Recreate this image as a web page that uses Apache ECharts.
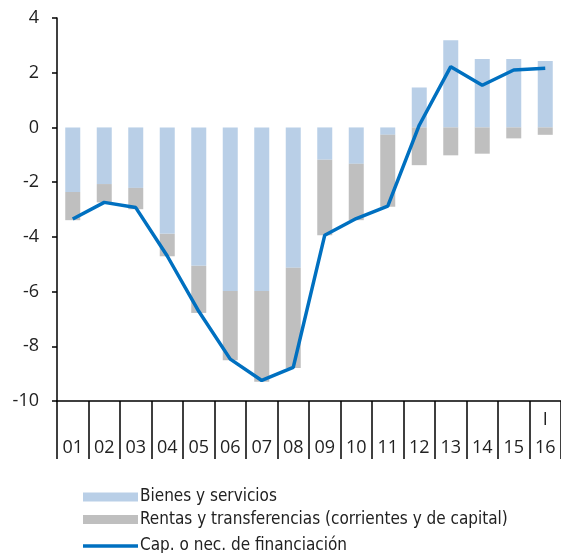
<!DOCTYPE html>
<html>
<head>
<meta charset="utf-8">
<script src="https://cdn.jsdelivr.net/npm/echarts@6/dist/echarts.min.js"></script>
<style>html,body{margin:0;padding:0;background:#fff;}#c{width:561px;height:553px;}</style>
</head>
<body>
<div id="c"></div>
<script>
const categories = ['01','02','03','04','05','06','07','08','09','10','11','12','13','14','15','16'];
const topLabels  = ['','','','','','','','','','','','','','','','I'];
const bienes = [-2.36,-2.07,-2.21,-3.89,-5.06,-5.98,-5.98,-5.13,-1.18,-1.33,-0.27,1.46,3.19,2.50,2.50,2.43];
const rentas = [-1.03,-0.67,-0.78,-0.82,-1.72,-2.53,-3.32,-3.66,-2.76,-2.06,-2.63,-1.38,-1.02,-0.96,-0.40,-0.27];
const capNec = [-3.35,-2.74,-2.93,-4.70,-6.72,-8.47,-9.25,-8.77,-3.94,-3.33,-2.88,0.08,2.22,1.54,2.10,2.16];
const yTicks = {min:-10, max:4, interval:2};
const names = ['Bienes y servicios','Rentas y transferencias (corrientes y de capital)','Cap. o nec. de financiación'];

const AX_FONT = 'Open Sans';
const LEG_FONT = '"DejaVu Sans Condensed", sans-serif';
function leg(name, top, h){
  return {
    orient:'horizontal', left:78, top:top, itemWidth:55, itemHeight:h, itemGap:0,
    icon:'rect',
    textStyle:{fontFamily:LEG_FONT, fontSize:17, color:'#222', lineHeight:20, padding:[0,0,4,-3]},
    data:[{name:name}]
  };
}
const chart = echarts.init(document.getElementById('c'), null, {renderer:'canvas'});
chart.setOption({
  animation:false,
  backgroundColor:'#fff',
  grid:{left:57, right:0, top:18, bottom:152, containLabel:false},
  legend:[leg(names[0],480,9), leg(names[1],502.5,9), leg(names[2],529,3.5)],
  xAxis:{
    type:'category', data:categories, position:'bottom',
    axisLine:{onZero:false, lineStyle:{color:'#000', width:1.5}},
    axisTick:{show:true, length:58, inside:false, lineStyle:{color:'#000', width:1.5}},
    axisLabel:{
      interval:0, margin:5, fontFamily:AX_FONT, fontSize:18, color:'#222', lineHeight:28,
      formatter:(v,i)=> topLabels[i] + '\n' + v
    },
    splitLine:{show:false}
  },
  yAxis:{
    type:'value', min:yTicks.min, max:yTicks.max, interval:yTicks.interval,
    axisLine:{show:true, lineStyle:{color:'#000', width:1.5}},
    axisTick:{show:true, length:5, lineStyle:{color:'#000', width:1.5}},
    axisLabel:{fontFamily:AX_FONT, fontSize:18, color:'#222', margin:18},
    splitLine:{show:false}
  },
  series:[
    {name:names[0], type:'bar', stack:'s', data:bienes, barWidth:15,
     itemStyle:{color:'#b9cfe7'}},
    {name:names[1], type:'bar', stack:'s', data:rentas, barWidth:15,
     itemStyle:{color:'#bfbfbf'}},
    {name:names[2], type:'line', data:capNec, symbol:'none',
     lineStyle:{color:'#0070c0', width:3.5}, itemStyle:{color:'#0070c0'}, z:5}
  ]
});
</script>
</body>
</html>
